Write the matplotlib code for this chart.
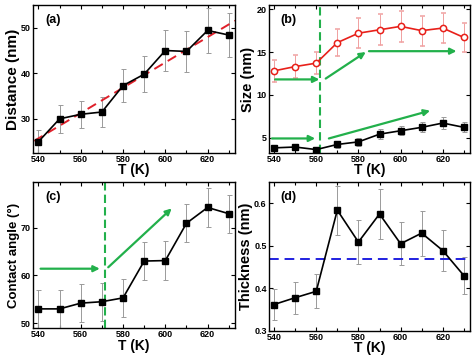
import numpy as np
import matplotlib.pyplot as plt
from matplotlib.ticker import MultipleLocator

plt.rcParams['font.family'] = ['Liberation Sans', 'DejaVu Sans']
plt.rcParams['font.weight'] = 'bold'

# temperatures
T = [540, 550, 560, 570, 580, 590, 600, 610, 620, 630]

# (a) distance
dist = [25.0, 30.0, 31.0, 31.5, 37.3, 39.8, 45.0, 44.8, 49.4, 48.4]
dist_err = [2.5, 3.0, 3.0, 3.2, 3.7, 4.0, 4.5, 4.5, 5.0, 4.8]

# (b) size, two series
size_big = [12.8, 13.3, 13.7, 16.1, 17.2, 17.6, 18.0, 17.5, 17.8, 16.7]
size_big_err = [1.25, 1.3, 1.3, 1.6, 1.75, 1.8, 1.8, 1.75, 1.75, 1.7]
size_small = [3.8, 3.9, 3.6, 4.2, 4.5, 5.4, 5.8, 6.2, 6.7, 6.2]
size_small_err = [0.35, 0.35, 0.35, 0.4, 0.5, 0.55, 0.55, 0.6, 0.65, 0.6]

# (c) contact angle
angle = [53.0, 53.0, 54.2, 54.5, 55.3, 63.0, 63.1, 70.9, 74.2, 72.9]
angle_err = [4.0] * 10

# (d) thickness
thick = [0.362, 0.378, 0.393, 0.584, 0.509, 0.575, 0.505, 0.530, 0.489, 0.430]
thick_err = [0.036, 0.038, 0.04, 0.058, 0.051, 0.058, 0.051, 0.053, 0.049, 0.043]
thick_mean = 0.47

green = '#22b04b'

fig = plt.figure(figsize=(4.74, 3.55), dpi=100)
axa = fig.add_axes([0.070, 0.569, 0.426, 0.417])
axb = fig.add_axes([0.567, 0.569, 0.425, 0.417])
axc = fig.add_axes([0.070, 0.076, 0.426, 0.411])
axd = fig.add_axes([0.567, 0.068, 0.425, 0.419])


def style(ax, label, ylabel, pad=-1, ysize=10.5):
    ax.set_xlim(537.5, 633)
    ax.xaxis.set_major_locator(MultipleLocator(20))
    ax.xaxis.set_minor_locator(MultipleLocator(10))
    ax.tick_params(which='both', direction='in', top=True, right=True,
                   labelsize=6.5, width=0.8, pad=1.5)
    ax.tick_params(which='major', length=3)
    ax.tick_params(which='minor', length=2)
    for s in ax.spines.values():
        s.set_linewidth(1.0)
    ax.set_xlabel('T (K)', fontsize=10, fontweight='bold', labelpad=pad)
    ax.set_ylabel(ylabel, fontsize=ysize, fontweight='bold', labelpad=1)
    ax.text(0.06, 0.9, label, transform=ax.transAxes, fontsize=9,
            fontweight='bold', va='center')


def arrow(ax, x0, y0, x1, y1):
    ax.annotate('', xy=(x1, y1), xytext=(x0, y0),
                arrowprops=dict(arrowstyle='-|>', color=green, lw=1.6,
                                mutation_scale=9, shrinkA=0, shrinkB=0))


err_kw = dict(ecolor='#9a9a9a', elinewidth=0.7, capsize=1.8, capthick=0.7)

# (a)
axa.errorbar(T, dist, yerr=dist_err, color='black', lw=1.2, marker='s',
             ms=4.5, **err_kw)
k, b = np.polyfit(T, dist, 1)
xf = np.array([538, 633])
axa.plot(xf, k * xf + b, color='#e0202a', lw=1.4, ls=(0, (5, 3)))
axa.set_ylim(22.5, 55)
axa.yaxis.set_major_locator(MultipleLocator(10))
style(axa, '(a)', 'Distance (nm)', ysize=11)

# (b)
axb.errorbar(T, size_big, yerr=size_big_err, color='#e8201a', lw=1.2,
             marker='o', ms=4.5, mfc='white', mec='#e8201a', mew=1.1,
             ecolor='#f0a0a0', elinewidth=0.7, capsize=1.8, capthick=0.7)
axb.errorbar(T, size_small, yerr=size_small_err, color='black', lw=1.2,
             marker='s', ms=4.5, **err_kw)
axb.axvline(562, color=green, lw=1.5, ls=(0, (4, 2)))
arrow(axb, 540.5, 11.8, 561.5, 11.8)
arrow(axb, 564.5, 11.9, 583.5, 15.0)
arrow(axb, 585, 15.1, 626.5, 15.1)
arrow(axb, 539, 4.9, 559.5, 4.9)
arrow(axb, 566, 4.9, 614, 8.15)
axb.set_ylim(3.2, 20.5)
axb.yaxis.set_major_locator(MultipleLocator(5))
style(axb, '(b)', 'Size (nm)')

# (c)
axc.errorbar(T, angle, yerr=angle_err, color='black', lw=1.2, marker='s',
             ms=4.5, **err_kw)
axc.axvline(571.4, color=green, lw=1.5, ls=(0, (4, 2)))
arrow(axc, 541, 61.4, 569, 61.4)
arrow(axc, 573, 61.7, 603, 74.0)
axc.set_ylim(49, 79.5)
axc.yaxis.set_major_locator(MultipleLocator(10))
style(axc, '(c)', 'Contact angle (°)', pad=0, ysize=9.5)

# (d)
axd.errorbar(T, thick, yerr=thick_err, color='black', lw=1.2, marker='s',
             ms=4.5, **err_kw)
axd.axhline(thick_mean, color='#2020e0', lw=1.4, ls=(0, (5, 3)))
axd.set_ylim(0.3, 0.65)
axd.yaxis.set_major_locator(MultipleLocator(0.1))
style(axd, '(d)', 'Thickness (nm)', pad=-1)

fig.savefig('out.png', dpi=100)
